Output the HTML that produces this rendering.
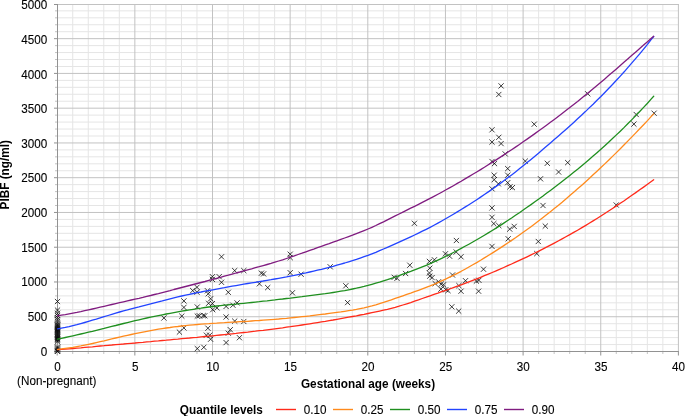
<!DOCTYPE html><html><head><meta charset="utf-8"><title>PIBF quantile chart</title>
<style>html,body{margin:0;padding:0;background:#fff;}svg{display:block;font-family:"Liberation Sans",sans-serif;}</style></head><body>
<svg width="685" height="416" viewBox="0 0 685 416">
<rect width="685" height="416" fill="#fff"/>
<g stroke="#e5e5e5" stroke-width="1">
<line x1="72.73" y1="4.5" x2="72.73" y2="351.5"/>
<line x1="88.26" y1="4.5" x2="88.26" y2="351.5"/>
<line x1="103.79" y1="4.5" x2="103.79" y2="351.5"/>
<line x1="119.32" y1="4.5" x2="119.32" y2="351.5"/>
<line x1="150.38" y1="4.5" x2="150.38" y2="351.5"/>
<line x1="165.91" y1="4.5" x2="165.91" y2="351.5"/>
<line x1="181.44" y1="4.5" x2="181.44" y2="351.5"/>
<line x1="196.97" y1="4.5" x2="196.97" y2="351.5"/>
<line x1="228.03" y1="4.5" x2="228.03" y2="351.5"/>
<line x1="243.56" y1="4.5" x2="243.56" y2="351.5"/>
<line x1="259.09" y1="4.5" x2="259.09" y2="351.5"/>
<line x1="274.62" y1="4.5" x2="274.62" y2="351.5"/>
<line x1="305.68" y1="4.5" x2="305.68" y2="351.5"/>
<line x1="321.21" y1="4.5" x2="321.21" y2="351.5"/>
<line x1="336.74" y1="4.5" x2="336.74" y2="351.5"/>
<line x1="352.27" y1="4.5" x2="352.27" y2="351.5"/>
<line x1="383.33" y1="4.5" x2="383.33" y2="351.5"/>
<line x1="398.86" y1="4.5" x2="398.86" y2="351.5"/>
<line x1="414.39" y1="4.5" x2="414.39" y2="351.5"/>
<line x1="429.92" y1="4.5" x2="429.92" y2="351.5"/>
<line x1="460.98" y1="4.5" x2="460.98" y2="351.5"/>
<line x1="476.51" y1="4.5" x2="476.51" y2="351.5"/>
<line x1="492.04" y1="4.5" x2="492.04" y2="351.5"/>
<line x1="507.57" y1="4.5" x2="507.57" y2="351.5"/>
<line x1="538.63" y1="4.5" x2="538.63" y2="351.5"/>
<line x1="554.16" y1="4.5" x2="554.16" y2="351.5"/>
<line x1="569.69" y1="4.5" x2="569.69" y2="351.5"/>
<line x1="585.22" y1="4.5" x2="585.22" y2="351.5"/>
<line x1="616.28" y1="4.5" x2="616.28" y2="351.5"/>
<line x1="631.81" y1="4.5" x2="631.81" y2="351.5"/>
<line x1="647.34" y1="4.5" x2="647.34" y2="351.5"/>
<line x1="662.87" y1="4.5" x2="662.87" y2="351.5"/>
<line x1="57.5" y1="344.55" x2="678.4" y2="344.55"/>
<line x1="57.5" y1="337.60" x2="678.4" y2="337.60"/>
<line x1="57.5" y1="330.64" x2="678.4" y2="330.64"/>
<line x1="57.5" y1="323.69" x2="678.4" y2="323.69"/>
<line x1="57.5" y1="309.79" x2="678.4" y2="309.79"/>
<line x1="57.5" y1="302.84" x2="678.4" y2="302.84"/>
<line x1="57.5" y1="295.88" x2="678.4" y2="295.88"/>
<line x1="57.5" y1="288.93" x2="678.4" y2="288.93"/>
<line x1="57.5" y1="275.03" x2="678.4" y2="275.03"/>
<line x1="57.5" y1="268.08" x2="678.4" y2="268.08"/>
<line x1="57.5" y1="261.12" x2="678.4" y2="261.12"/>
<line x1="57.5" y1="254.17" x2="678.4" y2="254.17"/>
<line x1="57.5" y1="240.27" x2="678.4" y2="240.27"/>
<line x1="57.5" y1="233.32" x2="678.4" y2="233.32"/>
<line x1="57.5" y1="226.36" x2="678.4" y2="226.36"/>
<line x1="57.5" y1="219.41" x2="678.4" y2="219.41"/>
<line x1="57.5" y1="205.51" x2="678.4" y2="205.51"/>
<line x1="57.5" y1="198.56" x2="678.4" y2="198.56"/>
<line x1="57.5" y1="191.60" x2="678.4" y2="191.60"/>
<line x1="57.5" y1="184.65" x2="678.4" y2="184.65"/>
<line x1="57.5" y1="170.75" x2="678.4" y2="170.75"/>
<line x1="57.5" y1="163.80" x2="678.4" y2="163.80"/>
<line x1="57.5" y1="156.84" x2="678.4" y2="156.84"/>
<line x1="57.5" y1="149.89" x2="678.4" y2="149.89"/>
<line x1="57.5" y1="135.99" x2="678.4" y2="135.99"/>
<line x1="57.5" y1="129.04" x2="678.4" y2="129.04"/>
<line x1="57.5" y1="122.08" x2="678.4" y2="122.08"/>
<line x1="57.5" y1="115.13" x2="678.4" y2="115.13"/>
<line x1="57.5" y1="101.23" x2="678.4" y2="101.23"/>
<line x1="57.5" y1="94.28" x2="678.4" y2="94.28"/>
<line x1="57.5" y1="87.32" x2="678.4" y2="87.32"/>
<line x1="57.5" y1="80.37" x2="678.4" y2="80.37"/>
<line x1="57.5" y1="66.47" x2="678.4" y2="66.47"/>
<line x1="57.5" y1="59.52" x2="678.4" y2="59.52"/>
<line x1="57.5" y1="52.56" x2="678.4" y2="52.56"/>
<line x1="57.5" y1="45.61" x2="678.4" y2="45.61"/>
<line x1="57.5" y1="31.71" x2="678.4" y2="31.71"/>
<line x1="57.5" y1="24.76" x2="678.4" y2="24.76"/>
<line x1="57.5" y1="17.80" x2="678.4" y2="17.80"/>
<line x1="57.5" y1="10.85" x2="678.4" y2="10.85"/>
</g>
<g stroke="#c2c2c2" stroke-width="1">
<line x1="134.85" y1="4.0" x2="134.85" y2="351.5"/>
<line x1="212.50" y1="4.0" x2="212.50" y2="351.5"/>
<line x1="290.15" y1="4.0" x2="290.15" y2="351.5"/>
<line x1="367.80" y1="4.0" x2="367.80" y2="351.5"/>
<line x1="445.45" y1="4.0" x2="445.45" y2="351.5"/>
<line x1="523.10" y1="4.0" x2="523.10" y2="351.5"/>
<line x1="600.75" y1="4.0" x2="600.75" y2="351.5"/>
<line x1="678.40" y1="4.0" x2="678.40" y2="351.5"/>
<line x1="57.5" y1="316.74" x2="678.9" y2="316.74"/>
<line x1="57.5" y1="281.98" x2="678.9" y2="281.98"/>
<line x1="57.5" y1="247.22" x2="678.9" y2="247.22"/>
<line x1="57.5" y1="212.46" x2="678.9" y2="212.46"/>
<line x1="57.5" y1="177.70" x2="678.9" y2="177.70"/>
<line x1="57.5" y1="142.94" x2="678.9" y2="142.94"/>
<line x1="57.5" y1="108.18" x2="678.9" y2="108.18"/>
<line x1="57.5" y1="73.42" x2="678.9" y2="73.42"/>
<line x1="57.5" y1="38.66" x2="678.9" y2="38.66"/>
<line x1="57.5" y1="4.50" x2="678.9" y2="4.50"/>
</g>
<g stroke="#929292" stroke-width="1">
<line x1="57.5" y1="4.0" x2="57.5" y2="352.0"/>
<line x1="54.0" y1="351.5" x2="678.9" y2="351.5"/>
<line x1="57.20" y1="351.5" x2="57.20" y2="355.5" opacity="1"/>
<line x1="72.73" y1="351.5" x2="72.73" y2="354.0" opacity="0.55"/>
<line x1="88.26" y1="351.5" x2="88.26" y2="354.0" opacity="0.55"/>
<line x1="103.79" y1="351.5" x2="103.79" y2="354.0" opacity="0.55"/>
<line x1="119.32" y1="351.5" x2="119.32" y2="354.0" opacity="0.55"/>
<line x1="134.85" y1="351.5" x2="134.85" y2="355.5" opacity="1"/>
<line x1="150.38" y1="351.5" x2="150.38" y2="354.0" opacity="0.55"/>
<line x1="165.91" y1="351.5" x2="165.91" y2="354.0" opacity="0.55"/>
<line x1="181.44" y1="351.5" x2="181.44" y2="354.0" opacity="0.55"/>
<line x1="196.97" y1="351.5" x2="196.97" y2="354.0" opacity="0.55"/>
<line x1="212.50" y1="351.5" x2="212.50" y2="355.5" opacity="1"/>
<line x1="228.03" y1="351.5" x2="228.03" y2="354.0" opacity="0.55"/>
<line x1="243.56" y1="351.5" x2="243.56" y2="354.0" opacity="0.55"/>
<line x1="259.09" y1="351.5" x2="259.09" y2="354.0" opacity="0.55"/>
<line x1="274.62" y1="351.5" x2="274.62" y2="354.0" opacity="0.55"/>
<line x1="290.15" y1="351.5" x2="290.15" y2="355.5" opacity="1"/>
<line x1="305.68" y1="351.5" x2="305.68" y2="354.0" opacity="0.55"/>
<line x1="321.21" y1="351.5" x2="321.21" y2="354.0" opacity="0.55"/>
<line x1="336.74" y1="351.5" x2="336.74" y2="354.0" opacity="0.55"/>
<line x1="352.27" y1="351.5" x2="352.27" y2="354.0" opacity="0.55"/>
<line x1="367.80" y1="351.5" x2="367.80" y2="355.5" opacity="1"/>
<line x1="383.33" y1="351.5" x2="383.33" y2="354.0" opacity="0.55"/>
<line x1="398.86" y1="351.5" x2="398.86" y2="354.0" opacity="0.55"/>
<line x1="414.39" y1="351.5" x2="414.39" y2="354.0" opacity="0.55"/>
<line x1="429.92" y1="351.5" x2="429.92" y2="354.0" opacity="0.55"/>
<line x1="445.45" y1="351.5" x2="445.45" y2="355.5" opacity="1"/>
<line x1="460.98" y1="351.5" x2="460.98" y2="354.0" opacity="0.55"/>
<line x1="476.51" y1="351.5" x2="476.51" y2="354.0" opacity="0.55"/>
<line x1="492.04" y1="351.5" x2="492.04" y2="354.0" opacity="0.55"/>
<line x1="507.57" y1="351.5" x2="507.57" y2="354.0" opacity="0.55"/>
<line x1="523.10" y1="351.5" x2="523.10" y2="355.5" opacity="1"/>
<line x1="538.63" y1="351.5" x2="538.63" y2="354.0" opacity="0.55"/>
<line x1="554.16" y1="351.5" x2="554.16" y2="354.0" opacity="0.55"/>
<line x1="569.69" y1="351.5" x2="569.69" y2="354.0" opacity="0.55"/>
<line x1="585.22" y1="351.5" x2="585.22" y2="354.0" opacity="0.55"/>
<line x1="600.75" y1="351.5" x2="600.75" y2="355.5" opacity="1"/>
<line x1="616.28" y1="351.5" x2="616.28" y2="354.0" opacity="0.55"/>
<line x1="631.81" y1="351.5" x2="631.81" y2="354.0" opacity="0.55"/>
<line x1="647.34" y1="351.5" x2="647.34" y2="354.0" opacity="0.55"/>
<line x1="662.87" y1="351.5" x2="662.87" y2="354.0" opacity="0.55"/>
<line x1="678.40" y1="351.5" x2="678.40" y2="355.5" opacity="1"/>
<line x1="54.0" y1="351.50" x2="57.5" y2="351.50" opacity="1"/>
<line x1="55.0" y1="344.55" x2="57.5" y2="344.55" opacity="0.55"/>
<line x1="55.0" y1="337.60" x2="57.5" y2="337.60" opacity="0.55"/>
<line x1="55.0" y1="330.64" x2="57.5" y2="330.64" opacity="0.55"/>
<line x1="55.0" y1="323.69" x2="57.5" y2="323.69" opacity="0.55"/>
<line x1="54.0" y1="316.74" x2="57.5" y2="316.74" opacity="1"/>
<line x1="55.0" y1="309.79" x2="57.5" y2="309.79" opacity="0.55"/>
<line x1="55.0" y1="302.84" x2="57.5" y2="302.84" opacity="0.55"/>
<line x1="55.0" y1="295.88" x2="57.5" y2="295.88" opacity="0.55"/>
<line x1="55.0" y1="288.93" x2="57.5" y2="288.93" opacity="0.55"/>
<line x1="54.0" y1="281.98" x2="57.5" y2="281.98" opacity="1"/>
<line x1="55.0" y1="275.03" x2="57.5" y2="275.03" opacity="0.55"/>
<line x1="55.0" y1="268.08" x2="57.5" y2="268.08" opacity="0.55"/>
<line x1="55.0" y1="261.12" x2="57.5" y2="261.12" opacity="0.55"/>
<line x1="55.0" y1="254.17" x2="57.5" y2="254.17" opacity="0.55"/>
<line x1="54.0" y1="247.22" x2="57.5" y2="247.22" opacity="1"/>
<line x1="55.0" y1="240.27" x2="57.5" y2="240.27" opacity="0.55"/>
<line x1="55.0" y1="233.32" x2="57.5" y2="233.32" opacity="0.55"/>
<line x1="55.0" y1="226.36" x2="57.5" y2="226.36" opacity="0.55"/>
<line x1="55.0" y1="219.41" x2="57.5" y2="219.41" opacity="0.55"/>
<line x1="54.0" y1="212.46" x2="57.5" y2="212.46" opacity="1"/>
<line x1="55.0" y1="205.51" x2="57.5" y2="205.51" opacity="0.55"/>
<line x1="55.0" y1="198.56" x2="57.5" y2="198.56" opacity="0.55"/>
<line x1="55.0" y1="191.60" x2="57.5" y2="191.60" opacity="0.55"/>
<line x1="55.0" y1="184.65" x2="57.5" y2="184.65" opacity="0.55"/>
<line x1="54.0" y1="177.70" x2="57.5" y2="177.70" opacity="1"/>
<line x1="55.0" y1="170.75" x2="57.5" y2="170.75" opacity="0.55"/>
<line x1="55.0" y1="163.80" x2="57.5" y2="163.80" opacity="0.55"/>
<line x1="55.0" y1="156.84" x2="57.5" y2="156.84" opacity="0.55"/>
<line x1="55.0" y1="149.89" x2="57.5" y2="149.89" opacity="0.55"/>
<line x1="54.0" y1="142.94" x2="57.5" y2="142.94" opacity="1"/>
<line x1="55.0" y1="135.99" x2="57.5" y2="135.99" opacity="0.55"/>
<line x1="55.0" y1="129.04" x2="57.5" y2="129.04" opacity="0.55"/>
<line x1="55.0" y1="122.08" x2="57.5" y2="122.08" opacity="0.55"/>
<line x1="55.0" y1="115.13" x2="57.5" y2="115.13" opacity="0.55"/>
<line x1="54.0" y1="108.18" x2="57.5" y2="108.18" opacity="1"/>
<line x1="55.0" y1="101.23" x2="57.5" y2="101.23" opacity="0.55"/>
<line x1="55.0" y1="94.28" x2="57.5" y2="94.28" opacity="0.55"/>
<line x1="55.0" y1="87.32" x2="57.5" y2="87.32" opacity="0.55"/>
<line x1="55.0" y1="80.37" x2="57.5" y2="80.37" opacity="0.55"/>
<line x1="54.0" y1="73.42" x2="57.5" y2="73.42" opacity="1"/>
<line x1="55.0" y1="66.47" x2="57.5" y2="66.47" opacity="0.55"/>
<line x1="55.0" y1="59.52" x2="57.5" y2="59.52" opacity="0.55"/>
<line x1="55.0" y1="52.56" x2="57.5" y2="52.56" opacity="0.55"/>
<line x1="55.0" y1="45.61" x2="57.5" y2="45.61" opacity="0.55"/>
<line x1="54.0" y1="38.66" x2="57.5" y2="38.66" opacity="1"/>
<line x1="55.0" y1="31.71" x2="57.5" y2="31.71" opacity="0.55"/>
<line x1="55.0" y1="24.76" x2="57.5" y2="24.76" opacity="0.55"/>
<line x1="55.0" y1="17.80" x2="57.5" y2="17.80" opacity="0.55"/>
<line x1="55.0" y1="10.85" x2="57.5" y2="10.85" opacity="0.55"/>
<line x1="54.0" y1="4.50" x2="57.5" y2="4.50" opacity="1"/>
</g>
<g font-size="12.5" fill="#000" stroke="#000" stroke-width="0.1">
<text transform="translate(47.20,355.50) scale(0.935,1)" text-anchor="end">0</text>
<text transform="translate(47.20,320.88) scale(0.935,1)" text-anchor="end">500</text>
<text transform="translate(47.20,286.25) scale(0.935,1)" text-anchor="end">1000</text>
<text transform="translate(47.20,251.62) scale(0.935,1)" text-anchor="end">1500</text>
<text transform="translate(47.20,217.00) scale(0.935,1)" text-anchor="end">2000</text>
<text transform="translate(47.20,182.37) scale(0.935,1)" text-anchor="end">2500</text>
<text transform="translate(47.20,147.75) scale(0.935,1)" text-anchor="end">3000</text>
<text transform="translate(47.20,113.12) scale(0.935,1)" text-anchor="end">3500</text>
<text transform="translate(47.20,78.50) scale(0.935,1)" text-anchor="end">4000</text>
<text transform="translate(47.20,43.88) scale(0.935,1)" text-anchor="end">4500</text>
<text transform="translate(47.20,9.25) scale(0.935,1)" text-anchor="end">5000</text>
<text transform="translate(57.50,370.80) scale(0.935,1)" text-anchor="middle">0</text>
<text transform="translate(135.12,370.80) scale(0.935,1)" text-anchor="middle">5</text>
<text transform="translate(212.75,370.80) scale(0.935,1)" text-anchor="middle">10</text>
<text transform="translate(290.38,370.80) scale(0.935,1)" text-anchor="middle">15</text>
<text transform="translate(368.00,370.80) scale(0.935,1)" text-anchor="middle">20</text>
<text transform="translate(445.62,370.80) scale(0.935,1)" text-anchor="middle">25</text>
<text transform="translate(523.25,370.80) scale(0.935,1)" text-anchor="middle">30</text>
<text transform="translate(600.88,370.80) scale(0.935,1)" text-anchor="middle">35</text>
<text transform="translate(678.50,370.80) scale(0.935,1)" text-anchor="middle">40</text>
<text transform="translate(56.70,385.30) scale(0.935,1)" text-anchor="middle">(Non-pregnant)</text>
</g>
<g font-size="12.6" font-weight="bold" fill="#000">
<text transform="translate(368.00,387.60) scale(0.935,1)" text-anchor="middle">Gestational age (weeks)</text>
<text transform="translate(8.8,174.8) rotate(-90) scale(0.935,1)" text-anchor="middle">PIBF (ng/ml)</text>
<text transform="translate(179.80,414.40) scale(0.935,1)" text-anchor="start">Quantile levels</text>
</g>
<g font-size="12.5" fill="#000" stroke="#000" stroke-width="0.1">
<line x1="276" y1="409.5" x2="296" y2="409.5" stroke="#ff2a1a" stroke-width="1.4"/>
<text transform="translate(303.80,414.40) scale(0.935,1)" text-anchor="start">0.10</text>
<line x1="333" y1="409.5" x2="353" y2="409.5" stroke="#ff8a1c" stroke-width="1.4"/>
<text transform="translate(360.80,414.40) scale(0.935,1)" text-anchor="start">0.25</text>
<line x1="390" y1="409.5" x2="410" y2="409.5" stroke="#1f8f1f" stroke-width="1.4"/>
<text transform="translate(417.80,414.40) scale(0.935,1)" text-anchor="start">0.50</text>
<line x1="447" y1="409.5" x2="467" y2="409.5" stroke="#2244ff" stroke-width="1.4"/>
<text transform="translate(474.80,414.40) scale(0.935,1)" text-anchor="start">0.75</text>
<line x1="504" y1="409.5" x2="524" y2="409.5" stroke="#801c80" stroke-width="1.4"/>
<text transform="translate(531.80,414.40) scale(0.935,1)" text-anchor="start">0.90</text>
</g>
<g stroke="#000" stroke-width="0.75" fill="none">
<path d="M54.9 298.9L60.1 304.1M54.9 304.1L60.1 298.9M54.9 307.5L60.1 312.7M54.9 312.7L60.1 307.5M54.9 310.7L60.1 315.9M54.9 315.9L60.1 310.7M54.9 312.9L60.1 318.1M54.9 318.1L60.1 312.9M54.9 315.1L60.1 320.3M54.9 320.3L60.1 315.1M54.9 317.3L60.1 322.5M54.9 322.5L60.1 317.3M54.9 319.5L60.1 324.7M54.9 324.7L60.1 319.5M54.9 321.4L60.1 326.6M54.9 326.6L60.1 321.4M54.9 322.4L60.1 327.6M54.9 327.6L60.1 322.4M54.9 323.3L60.1 328.5M54.9 328.5L60.1 323.3M54.9 324.2L60.1 329.4M54.9 329.4L60.1 324.2M54.9 325.1L60.1 330.3M54.9 330.3L60.1 325.1M54.9 326.0L60.1 331.2M54.9 331.2L60.1 326.0M54.9 326.9L60.1 332.1M54.9 332.1L60.1 326.9M54.9 327.8L60.1 333.0M54.9 333.0L60.1 327.8M54.9 328.7L60.1 333.9M54.9 333.9L60.1 328.7M54.9 329.6L60.1 334.8M54.9 334.8L60.1 329.6M54.9 330.5L60.1 335.7M54.9 335.7L60.1 330.5M54.9 331.4L60.1 336.6M54.9 336.6L60.1 331.4M54.9 332.3L60.1 337.5M54.9 337.5L60.1 332.3M54.9 333.2L60.1 338.4M54.9 338.4L60.1 333.2M54.9 334.1L60.1 339.3M54.9 339.3L60.1 334.1M54.9 335.0L60.1 340.2M54.9 340.2L60.1 335.0M54.9 335.9L60.1 341.1M54.9 341.1L60.1 335.9M54.9 336.8L60.1 342.0M54.9 342.0L60.1 336.8M54.9 337.7L60.1 342.9M54.9 342.9L60.1 337.7M54.9 339.1L60.1 344.3M54.9 344.3L60.1 339.1M54.9 344.4L60.1 349.6M54.9 349.6L60.1 344.4M54.9 345.4L60.1 350.6M54.9 350.6L60.1 345.4M54.9 346.4L60.1 351.6M54.9 351.6L60.1 346.4M54.9 347.4L60.1 352.6M54.9 352.6L60.1 347.4M54.9 348.4L60.1 353.6M54.9 353.6L60.1 348.4M54.9 348.8L60.1 354.0M54.9 354.0L60.1 348.8M181.3 298.3L186.5 303.5M181.3 303.5L186.5 298.3M181.3 304.8L186.5 310.0M181.3 310.0L186.5 304.8M179.2 313.5L184.4 318.7M179.2 318.7L184.4 313.5M194.7 304.4L199.9 309.6M194.7 309.6L199.9 304.4M194.7 313.5L199.9 318.7M194.7 318.7L199.9 313.5M196.7 313.2L201.9 318.4M196.7 318.4L201.9 313.2M200.6 313.0L205.8 318.2M200.6 318.2L205.8 313.0M202.2 313.2L207.4 318.4M202.2 318.4L207.4 313.2M205.6 291.2L210.8 296.4M205.6 296.4L210.8 291.2M208.0 296.2L213.2 301.4M208.0 301.4L213.2 296.2M206.0 300.7L211.2 305.9M206.0 305.9L211.2 300.7M209.8 301.0L215.0 306.2M209.8 306.2L215.0 301.0M214.4 305.3L219.6 310.5M214.4 310.5L219.6 305.3M210.1 307.1L215.3 312.3M210.1 312.3L215.3 307.1M225.7 289.7L230.9 294.9M225.7 294.9L230.9 289.7M223.5 303.8L228.7 309.0M223.5 309.0L228.7 303.8M230.3 302.6L235.5 307.8M230.3 307.8L235.5 302.6M234.5 300.3L239.7 305.5M234.5 305.5L239.7 300.3M223.5 314.4L228.7 319.6M223.5 319.6L228.7 314.4M232.1 318.5L237.3 323.7M232.1 323.7L237.3 318.5M241.2 318.9L246.4 324.1M241.2 324.1L246.4 318.9M181.3 325.3L186.5 330.5M181.3 330.5L186.5 325.3M176.8 329.5L182.0 334.7M176.8 334.7L182.0 329.5M205.3 325.6L210.5 330.8M205.3 330.8L210.5 325.6M203.8 332.6L209.0 337.8M203.8 337.8L209.0 332.6M207.1 332.6L212.3 337.8M207.1 337.8L212.3 332.6M208.0 336.6L213.2 341.8M208.0 341.8L213.2 336.6M227.7 327.1L232.9 332.3M227.7 332.3L232.9 327.1M225.7 330.6L230.9 335.8M225.7 335.8L230.9 330.6M236.8 335.1L242.0 340.3M236.8 340.3L242.0 335.1M223.5 340.0L228.7 345.2M223.5 345.2L228.7 340.0M194.7 346.0L199.9 351.2M194.7 351.2L199.9 346.0M201.2 344.7L206.4 349.9M201.2 349.9L206.4 344.7M161.3 315.4L166.5 320.6M161.3 320.6L166.5 315.4M218.9 254.2L224.1 259.4M218.9 259.4L224.1 254.2M232.1 268.0L237.3 273.2M232.1 273.2L237.3 268.0M241.2 268.0L246.4 273.2M241.2 273.2L246.4 268.0M209.8 274.1L215.0 279.3M209.8 279.3L215.0 274.1M216.6 274.1L221.8 279.3M216.6 279.3L221.8 274.1M209.8 276.8L215.0 282.0M209.8 282.0L215.0 276.8M218.9 279.7L224.1 284.9M218.9 284.9L224.1 279.7M258.8 270.6L264.0 275.8M258.8 275.8L264.0 270.6M261.0 271.3L266.2 276.5M261.0 276.5L266.2 271.3M256.8 281.2L262.0 286.4M256.8 286.4L262.0 281.2M265.1 285.0L270.3 290.2M265.1 290.2L270.3 285.0M194.4 284.7L199.6 289.9M194.4 289.9L199.6 284.7M190.1 288.0L195.3 293.2M190.1 293.2L195.3 288.0M204.9 288.2L210.1 293.4M204.9 293.4L210.1 288.2M194.4 289.6L199.6 294.8M194.4 294.8L199.6 289.6M287.6 251.6L292.8 256.8M287.6 256.8L292.8 251.6M287.6 255.0L292.8 260.2M287.6 260.2L292.8 255.0M287.6 270.1L292.8 275.3M287.6 275.3L292.8 270.1M298.5 271.6L303.7 276.8M298.5 276.8L303.7 271.6M327.6 264.2L332.8 269.4M327.6 269.4L332.8 264.2M343.2 283.2L348.4 288.4M343.2 288.4L348.4 283.2M289.8 290.2L295.0 295.4M289.8 295.4L295.0 290.2M345.0 300.0L350.2 305.2M345.0 305.2L350.2 300.0M391.6 274.7L396.8 279.9M391.6 279.9L396.8 274.7M394.4 275.7L399.6 280.9M394.4 280.9L399.6 275.7M403.0 270.9L408.2 276.1M403.0 276.1L408.2 270.9M407.2 262.6L412.4 267.8M407.2 267.8L412.4 262.6M426.8 258.8L432.0 264.0M426.8 264.0L432.0 258.8M431.8 257.2L437.0 262.4M431.8 262.4L437.0 257.2M427.2 265.6L432.4 270.8M427.2 270.8L432.4 265.6M426.8 270.4L432.0 275.6M426.8 275.6L432.0 270.4M427.2 273.5L432.4 278.7M427.2 278.7L432.4 273.5M429.5 275.0L434.7 280.2M429.5 280.2L434.7 275.0M432.6 281.0L437.8 286.2M432.6 286.2L437.8 281.0M435.9 279.2L441.1 284.4M435.9 284.4L441.1 279.2M438.6 281.5L443.8 286.7M438.6 286.7L443.8 281.5M440.9 282.2L446.1 287.4M440.9 287.4L446.1 282.2M438.3 286.5L443.5 291.7M438.3 291.7L443.5 286.5M443.2 287.1L448.4 292.3M443.2 292.3L448.4 287.1M445.4 288.0L450.6 293.2M445.4 293.2L450.6 288.0M442.8 251.2L448.0 256.4M442.8 256.4L448.0 251.2M447.0 253.6L452.2 258.8M447.0 258.8L452.2 253.6M453.6 249.4L458.8 254.6M453.6 254.6L458.8 249.4M458.4 254.2L463.6 259.4M458.4 259.4L463.6 254.2M449.9 272.4L455.1 277.6M449.9 277.6L455.1 272.4M462.9 278.1L468.1 283.3M462.9 283.3L468.1 278.1M456.3 283.0L461.5 288.2M456.3 288.2L461.5 283.0M458.4 288.6L463.6 293.8M458.4 293.8L463.6 288.6M449.2 304.2L454.4 309.4M449.2 309.4L454.4 304.2M456.1 308.5L461.3 313.7M456.1 313.7L461.3 308.5M411.8 220.7L417.0 225.9M411.8 225.9L417.0 220.7M453.8 237.9L459.0 243.1M453.8 243.1L459.0 237.9M489.4 205.3L494.6 210.5M489.4 210.5L494.6 205.3M489.4 214.7L494.6 219.9M489.4 219.9L494.6 214.7M491.2 221.0L496.4 226.2M491.2 226.2L496.4 221.0M496.2 223.0L501.4 228.2M496.2 228.2L501.4 223.0M507.1 226.5L512.3 231.7M507.1 231.7L512.3 226.5M511.6 223.8L516.8 229.0M511.6 229.0L516.8 223.8M505.6 236.2L510.8 241.4M505.6 241.4L510.8 236.2M489.4 243.8L494.6 249.0M489.4 249.0L494.6 243.8M535.7 238.9L540.9 244.1M535.7 244.1L540.9 238.9M489.4 127.2L494.6 132.4M489.4 132.4L494.6 127.2M496.2 134.7L501.4 139.9M496.2 139.9L501.4 134.7M489.4 139.5L494.6 144.7M489.4 144.7L494.6 139.5M498.5 141.0L503.7 146.2M498.5 146.2L503.7 141.0M502.6 151.3L507.8 156.5M502.6 156.5L507.8 151.3M489.4 158.9L494.6 164.1M489.4 164.1L494.6 158.9M491.9 161.0L497.1 166.2M491.9 166.2L497.1 161.0M522.7 158.5L527.9 163.7M522.7 163.7L527.9 158.5M505.1 166.0L510.3 171.2M505.1 171.2L510.3 166.0M491.6 172.6L496.8 177.8M491.6 177.8L496.8 172.6M505.1 172.6L510.3 177.8M505.1 177.8L510.3 172.6M491.6 177.1L496.8 182.3M491.6 182.3L496.8 177.1M495.7 181.2L500.9 186.4M495.7 186.4L500.9 181.2M505.1 180.1L510.3 185.3M505.1 185.3L510.3 180.1M507.4 184.2L512.6 189.4M507.4 189.4L512.6 184.2M509.8 185.0L515.0 190.2M509.8 190.2L515.0 185.0M489.4 186.2L494.6 191.4M489.4 191.4L494.6 186.2M537.9 176.2L543.1 181.4M537.9 181.4L543.1 176.2M498.5 83.3L503.7 88.5M498.5 88.5L503.7 83.3M496.2 91.9L501.4 97.1M496.2 97.1L501.4 91.9M531.6 121.6L536.8 126.8M531.6 126.8L536.8 121.6M544.7 160.7L549.9 165.9M544.7 165.9L549.9 160.7M565.1 160.0L570.3 165.2M565.1 165.2L570.3 160.0M556.0 169.4L561.2 174.6M556.0 174.6L561.2 169.4M540.4 202.9L545.6 208.1M540.4 208.1L545.6 202.9M542.7 223.5L547.9 228.7M542.7 228.7L547.9 223.5M613.6 202.4L618.8 207.6M613.6 207.6L618.8 202.4M480.9 266.6L486.1 271.8M480.9 271.8L486.1 266.6M473.8 278.5L479.0 283.7M473.8 283.7L479.0 278.5M476.3 277.7L481.5 282.9M476.3 282.9L481.5 277.7M476.0 288.6L481.2 293.8M476.0 293.8L481.2 288.6M534.2 251.0L539.4 256.2M534.2 256.2L539.4 251.0M585.1 91.2L590.3 96.4M585.1 96.4L590.3 91.2M633.6 111.9L638.8 117.1M633.6 117.1L638.8 111.9M631.3 121.5L636.5 126.7M631.3 126.7L636.5 121.5M651.5 110.6L656.7 115.8M651.5 115.8L656.7 110.6"/>
</g>
<g fill="none" stroke-width="1.3" stroke-linejoin="round" stroke-linecap="round">
<polyline stroke="#ff2a1a" points="57.5,349.7 61.4,349.4 65.3,349.1 69.1,348.8 73.0,348.5 76.9,348.1 80.8,347.8 84.7,347.4 88.5,347.1 92.4,346.8 96.3,346.4 100.2,346.0 104.1,345.7 108.0,345.3 111.8,345.0 115.7,344.6 119.6,344.3 123.5,344.0 127.4,343.6 131.2,343.3 135.1,343.0 139.0,342.6 142.9,342.3 146.8,341.9 150.7,341.6 154.5,341.2 158.4,340.9 162.3,340.5 166.2,340.2 170.1,339.8 173.9,339.4 177.8,339.1 181.7,338.7 185.6,338.3 189.5,338.0 193.3,337.6 197.2,337.3 201.1,336.9 205.0,336.5 208.9,336.2 212.8,335.8 216.6,335.4 220.5,335.0 224.4,334.6 228.3,334.2 232.2,333.8 236.0,333.4 239.9,332.9 243.8,332.5 247.7,332.1 251.6,331.6 255.4,331.2 259.3,330.7 263.2,330.3 267.1,329.8 271.0,329.3 274.9,328.8 278.7,328.3 282.6,327.8 286.5,327.2 290.4,326.7 294.3,326.1 298.1,325.6 302.0,325.0 305.9,324.4 309.8,323.8 313.7,323.2 317.5,322.6 321.4,321.9 325.3,321.3 329.2,320.6 333.1,320.0 336.9,319.3 340.8,318.6 344.7,317.9 348.6,317.2 352.5,316.5 356.4,315.8 360.2,315.0 364.1,314.3 368.0,313.5 371.9,312.7 375.8,311.9 379.6,311.1 383.5,310.2 387.4,309.3 391.3,308.3 395.2,307.3 399.1,306.2 402.9,305.0 406.8,303.8 410.7,302.6 414.6,301.2 418.5,299.9 422.3,298.5 426.2,297.2 430.1,295.8 434.0,294.4 437.9,293.1 441.7,291.7 445.6,290.4 449.5,289.0 453.4,287.6 457.3,286.2 461.2,284.8 465.0,283.4 468.9,281.9 472.8,280.4 476.7,278.9 480.6,277.3 484.4,275.7 488.3,274.1 492.2,272.5 496.1,270.8 500.0,269.2 503.8,267.5 507.7,265.7 511.6,264.0 515.5,262.2 519.4,260.4 523.2,258.6 527.1,256.8 531.0,254.9 534.9,253.0 538.8,251.1 542.7,249.1 546.5,247.1 550.4,245.1 554.3,243.1 558.2,241.0 562.1,238.9 565.9,236.8 569.8,234.6 573.7,232.4 577.6,230.2 581.5,227.9 585.4,225.6 589.2,223.3 593.1,220.9 597.0,218.5 600.9,216.0 604.8,213.5 608.6,211.0 612.5,208.5 616.4,205.9 620.3,203.3 624.2,200.7 628.0,198.0 631.9,195.3 635.8,192.6 639.7,189.8 643.6,187.1 647.5,184.3 651.3,181.5 653.7,179.8"/>
<polyline stroke="#ff8a1c" points="57.5,349.3 61.4,348.9 65.3,348.4 69.1,347.9 73.0,347.3 76.9,346.6 80.8,345.9 84.7,345.1 88.5,344.3 92.4,343.5 96.3,342.6 100.2,341.7 104.1,340.8 108.0,339.8 111.8,338.9 115.7,338.0 119.6,337.1 123.5,336.2 127.4,335.3 131.2,334.5 135.1,333.7 139.0,332.9 142.9,332.1 146.8,331.3 150.7,330.6 154.5,329.9 158.4,329.2 162.3,328.6 166.2,328.0 170.1,327.5 173.9,326.9 177.8,326.5 181.7,326.0 185.6,325.6 189.5,325.2 193.3,324.8 197.2,324.5 201.1,324.2 205.0,323.9 208.9,323.7 212.8,323.4 216.6,323.2 220.5,322.9 224.4,322.7 228.3,322.4 232.2,322.2 236.0,322.0 239.9,321.7 243.8,321.5 247.7,321.3 251.6,321.0 255.4,320.7 259.3,320.5 263.2,320.2 267.1,319.9 271.0,319.6 274.9,319.3 278.7,319.0 282.6,318.6 286.5,318.3 290.4,317.9 294.3,317.5 298.1,317.1 302.0,316.7 305.9,316.3 309.8,315.9 313.7,315.4 317.5,314.9 321.4,314.4 325.3,314.0 329.2,313.4 333.1,312.9 336.9,312.4 340.8,311.9 344.7,311.3 348.6,310.7 352.5,310.1 356.4,309.4 360.2,308.6 364.1,307.8 368.0,306.9 371.9,305.9 375.8,304.8 379.6,303.6 383.5,302.4 387.4,301.1 391.3,299.8 395.2,298.4 399.1,297.1 402.9,295.8 406.8,294.4 410.7,293.1 414.6,291.7 418.5,290.3 422.3,288.9 426.2,287.4 430.1,285.9 434.0,284.3 437.9,282.6 441.7,280.9 445.6,279.1 449.5,277.2 453.4,275.3 457.3,273.3 461.2,271.3 465.0,269.2 468.9,267.0 472.8,264.8 476.7,262.6 480.6,260.3 484.4,257.9 488.3,255.5 492.2,253.1 496.1,250.6 500.0,248.1 503.8,245.6 507.7,243.0 511.6,240.4 515.5,237.8 519.4,235.0 523.2,232.3 527.1,229.5 531.0,226.7 534.9,223.8 538.8,220.8 542.7,217.8 546.5,214.8 550.4,211.7 554.3,208.6 558.2,205.4 562.1,202.2 565.9,198.9 569.8,195.6 573.7,192.2 577.6,188.8 581.5,185.4 585.4,181.9 589.2,178.4 593.1,174.8 597.0,171.2 600.9,167.6 604.8,163.9 608.6,160.2 612.5,156.4 616.4,152.6 620.3,148.7 624.2,144.8 628.0,140.9 631.9,136.9 635.8,132.9 639.7,128.8 643.6,124.7 647.5,120.6 651.3,116.4 653.7,113.9"/>
<polyline stroke="#1f8f1f" points="57.5,339.1 61.4,338.3 65.3,337.5 69.1,336.7 73.0,335.8 76.9,334.9 80.8,334.0 84.7,333.1 88.5,332.2 92.4,331.3 96.3,330.3 100.2,329.3 104.1,328.4 108.0,327.4 111.8,326.4 115.7,325.5 119.6,324.5 123.5,323.5 127.4,322.6 131.2,321.7 135.1,320.7 139.0,319.8 142.9,318.9 146.8,318.0 150.7,317.2 154.5,316.4 158.4,315.6 162.3,314.8 166.2,314.0 170.1,313.3 173.9,312.6 177.8,311.9 181.7,311.2 185.6,310.5 189.5,309.9 193.3,309.3 197.2,308.6 201.1,308.1 205.0,307.5 208.9,307.0 212.8,306.5 216.6,306.0 220.5,305.6 224.4,305.2 228.3,304.8 232.2,304.4 236.0,304.1 239.9,303.7 243.8,303.3 247.7,302.9 251.6,302.5 255.4,302.1 259.3,301.7 263.2,301.2 267.1,300.8 271.0,300.3 274.9,299.9 278.7,299.4 282.6,299.0 286.5,298.5 290.4,298.1 294.3,297.6 298.1,297.1 302.0,296.7 305.9,296.2 309.8,295.7 313.7,295.2 317.5,294.7 321.4,294.2 325.3,293.7 329.2,293.1 333.1,292.5 336.9,291.9 340.8,291.2 344.7,290.6 348.6,289.8 352.5,289.0 356.4,288.2 360.2,287.3 364.1,286.4 368.0,285.4 371.9,284.3 375.8,283.2 379.6,282.1 383.5,280.8 387.4,279.6 391.3,278.3 395.2,277.0 399.1,275.6 402.9,274.2 406.8,272.8 410.7,271.4 414.6,269.9 418.5,268.4 422.3,266.9 426.2,265.3 430.1,263.6 434.0,261.9 437.9,260.1 441.7,258.3 445.6,256.4 449.5,254.5 453.4,252.5 457.3,250.5 461.2,248.4 465.0,246.3 468.9,244.2 472.8,242.0 476.7,239.8 480.6,237.5 484.4,235.2 488.3,232.9 492.2,230.5 496.1,228.1 500.0,225.6 503.8,223.1 507.7,220.5 511.6,218.0 515.5,215.3 519.4,212.7 523.2,210.0 527.1,207.3 531.0,204.6 534.9,201.8 538.8,199.0 542.7,196.2 546.5,193.3 550.4,190.4 554.3,187.5 558.2,184.5 562.1,181.5 565.9,178.5 569.8,175.4 573.7,172.3 577.6,169.2 581.5,165.9 585.4,162.7 589.2,159.4 593.1,156.1 597.0,152.7 600.9,149.2 604.8,145.7 608.6,142.2 612.5,138.6 616.4,134.9 620.3,131.2 624.2,127.4 628.0,123.5 631.9,119.6 635.8,115.6 639.7,111.5 643.6,107.4 647.5,103.2 651.3,98.9 653.7,96.3"/>
<polyline stroke="#2244ff" points="57.5,328.8 61.4,328.1 65.3,327.4 69.1,326.6 73.0,325.6 76.9,324.7 80.8,323.6 84.7,322.5 88.5,321.4 92.4,320.2 96.3,319.1 100.2,317.9 104.1,316.7 108.0,315.5 111.8,314.3 115.7,313.1 119.6,312.0 123.5,310.9 127.4,309.9 131.2,308.8 135.1,307.8 139.0,306.9 142.9,305.9 146.8,304.9 150.7,303.9 154.5,302.9 158.4,301.9 162.3,300.9 166.2,299.8 170.1,298.8 173.9,297.9 177.8,296.9 181.7,296.0 185.6,295.1 189.5,294.3 193.3,293.5 197.2,292.7 201.1,292.0 205.0,291.2 208.9,290.5 212.8,289.8 216.6,289.1 220.5,288.4 224.4,287.7 228.3,286.9 232.2,286.2 236.0,285.6 239.9,284.9 243.8,284.2 247.7,283.5 251.6,282.9 255.4,282.3 259.3,281.6 263.2,281.0 267.1,280.3 271.0,279.7 274.9,279.0 278.7,278.3 282.6,277.6 286.5,276.9 290.4,276.1 294.3,275.4 298.1,274.6 302.0,273.7 305.9,272.9 309.8,272.0 313.7,271.1 317.5,270.2 321.4,269.3 325.3,268.3 329.2,267.3 333.1,266.3 336.9,265.2 340.8,264.1 344.7,263.0 348.6,261.8 352.5,260.6 356.4,259.4 360.2,258.1 364.1,256.7 368.0,255.3 371.9,253.8 375.8,252.3 379.6,250.6 383.5,249.0 387.4,247.3 391.3,245.6 395.2,243.9 399.1,242.1 402.9,240.3 406.8,238.6 410.7,236.8 414.6,235.0 418.5,233.1 422.3,231.2 426.2,229.3 430.1,227.3 434.0,225.2 437.9,223.1 441.7,221.0 445.6,218.8 449.5,216.5 453.4,214.2 457.3,211.9 461.2,209.5 465.0,207.1 468.9,204.7 472.8,202.2 476.7,199.7 480.6,197.1 484.4,194.5 488.3,191.9 492.2,189.2 496.1,186.4 500.0,183.6 503.8,180.8 507.7,177.8 511.6,174.9 515.5,171.9 519.4,168.8 523.2,165.7 527.1,162.6 531.0,159.4 534.9,156.2 538.8,152.9 542.7,149.6 546.5,146.3 550.4,143.0 554.3,139.6 558.2,136.2 562.1,132.8 565.9,129.4 569.8,125.9 573.7,122.4 577.6,118.8 581.5,115.2 585.4,111.6 589.2,107.9 593.1,104.2 597.0,100.3 600.9,96.5 604.8,92.5 608.6,88.5 612.5,84.5 616.4,80.3 620.3,76.1 624.2,71.8 628.0,67.4 631.9,62.9 635.8,58.4 639.7,53.8 643.6,49.1 647.5,44.3 651.3,39.4 653.7,36.5"/>
<polyline stroke="#801c80" points="57.5,315.8 61.4,315.2 65.3,314.6 69.1,313.9 73.0,313.1 76.9,312.4 80.8,311.6 84.7,310.7 88.5,309.9 92.4,309.0 96.3,308.1 100.2,307.2 104.1,306.3 108.0,305.4 111.8,304.5 115.7,303.6 119.6,302.7 123.5,301.8 127.4,300.9 131.2,300.0 135.1,299.1 139.0,298.3 142.9,297.4 146.8,296.4 150.7,295.5 154.5,294.5 158.4,293.6 162.3,292.6 166.2,291.6 170.1,290.6 173.9,289.5 177.8,288.5 181.7,287.5 185.6,286.5 189.5,285.5 193.3,284.5 197.2,283.5 201.1,282.5 205.0,281.5 208.9,280.4 212.8,279.4 216.6,278.4 220.5,277.3 224.4,276.2 228.3,275.2 232.2,274.1 236.0,273.0 239.9,272.0 243.8,270.9 247.7,269.8 251.6,268.8 255.4,267.7 259.3,266.7 263.2,265.6 267.1,264.5 271.0,263.4 274.9,262.2 278.7,261.0 282.6,259.8 286.5,258.5 290.4,257.2 294.3,255.9 298.1,254.5 302.0,253.2 305.9,251.8 309.8,250.4 313.7,249.1 317.5,247.7 321.4,246.3 325.3,244.9 329.2,243.6 333.1,242.2 336.9,240.8 340.8,239.4 344.7,238.0 348.6,236.6 352.5,235.2 356.4,233.7 360.2,232.2 364.1,230.6 368.0,229.0 371.9,227.3 375.8,225.5 379.6,223.6 383.5,221.8 387.4,219.8 391.3,217.9 395.2,215.9 399.1,214.0 402.9,212.1 406.8,210.1 410.7,208.2 414.6,206.3 418.5,204.3 422.3,202.4 426.2,200.4 430.1,198.4 434.0,196.4 437.9,194.3 441.7,192.2 445.6,190.0 449.5,187.9 453.4,185.7 457.3,183.4 461.2,181.2 465.0,178.9 468.9,176.6 472.8,174.3 476.7,172.0 480.6,169.6 484.4,167.3 488.3,164.8 492.2,162.4 496.1,159.9 500.0,157.4 503.8,154.9 507.7,152.3 511.6,149.7 515.5,147.1 519.4,144.5 523.2,141.8 527.1,139.1 531.0,136.4 534.9,133.6 538.8,130.8 542.7,128.0 546.5,125.2 550.4,122.3 554.3,119.4 558.2,116.5 562.1,113.5 565.9,110.5 569.8,107.5 573.7,104.4 577.6,101.4 581.5,98.2 585.4,95.1 589.2,91.9 593.1,88.7 597.0,85.5 600.9,82.2 604.8,78.9 608.6,75.6 612.5,72.3 616.4,68.9 620.3,65.5 624.2,62.1 628.0,58.7 631.9,55.3 635.8,51.9 639.7,48.5 643.6,45.1 647.5,41.7 651.3,38.3 653.7,36.3"/>
</g>
</svg></body></html>
